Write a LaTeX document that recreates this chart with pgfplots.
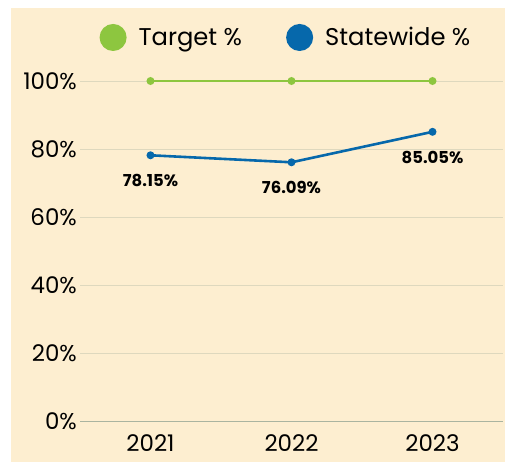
\documentclass[border=0pt]{standalone}
\usepackage{pgfplots}
\pgfplotsset{compat=1.18}
\usepackage{fontspec}
\setmainfont{Poppins}
\definecolor{bg}{RGB}{253,238,208}
\definecolor{tgreen}{RGB}{141,198,63}
\definecolor{sblue}{RGB}{6,104,171}
\definecolor{gridc}{RGB}{222,216,190}
\definecolor{zeroc}{RGB}{170,180,160}
\begin{document}
\begin{tikzpicture}
\useasboundingbox (0bp,0bp) rectangle (505bp,462bp);
\fill[bg] (11bp,0bp) rectangle (505bp,454bp);
\begin{axis}[
  at={(80bp,41bp)}, anchor=south west,
  scale only axis, width=423bp, height=340bp,
  xmin=-0.5, xmax=2.5, ymin=0, ymax=100,
  xtick={0,1,2}, xticklabels={2021,2022,2023},
  ytick={0,20,...,100},
  yticklabel={\pgfmathprintnumber{\tick}\%},
  /pgf/number format/assume math mode=true,
  axis line style={draw=none},
  major tick length=0pt,
  ymajorgrids, grid style={gridc, line width=0.8bp},
  extra y ticks={0}, extra y tick labels={},
  extra y tick style={grid style={zeroc, line width=1bp}},
  tick label style={font=\fontsize{23}{26}\selectfont, text=black},
  yticklabel style={inner sep=0pt, xshift=-3bp},
  xticklabel style={inner sep=0pt, yshift=-13bp},
  legend columns=2,
  legend style={at={(0.4846,1.128)}, anchor=center, draw=none, fill=none,
    inner sep=0pt, nodes={inner sep=0pt},
    font=\fontsize{24.3}{27}\selectfont,
    /tikz/every odd column/.append style={column sep=12bp},
    /tikz/every even column/.append style={column sep=44bp}},
  clip=false,
]
\addplot[tgreen, line width=2.6bp, mark=*, mark size=2.6bp,
  legend image code/.code={\fill[tgreen] (0bp,0bp) circle (12.2bp);}]
  coordinates {(0,100) (1,100) (2,100)};
\addlegendentry{Target \%}
\addplot[sblue, line width=2.6bp, mark=*, mark size=2.6bp,
  legend image code/.code={\fill[sblue] (0bp,0bp) circle (12.2bp);},
  nodes near coords, point meta=explicit symbolic,
  every node near coord/.append style={anchor=north, inner sep=0pt, yshift=-18bp,
    font=\bfseries\fontsize{16.5}{19}\selectfont, text=black}]
  coordinates {(0,78.15)[78.15\%] (1,76.09)[76.09\%] (2,85.05)[85.05\%]};
\addlegendentry{Statewide \%}
\end{axis}
\end{tikzpicture}
\end{document}
